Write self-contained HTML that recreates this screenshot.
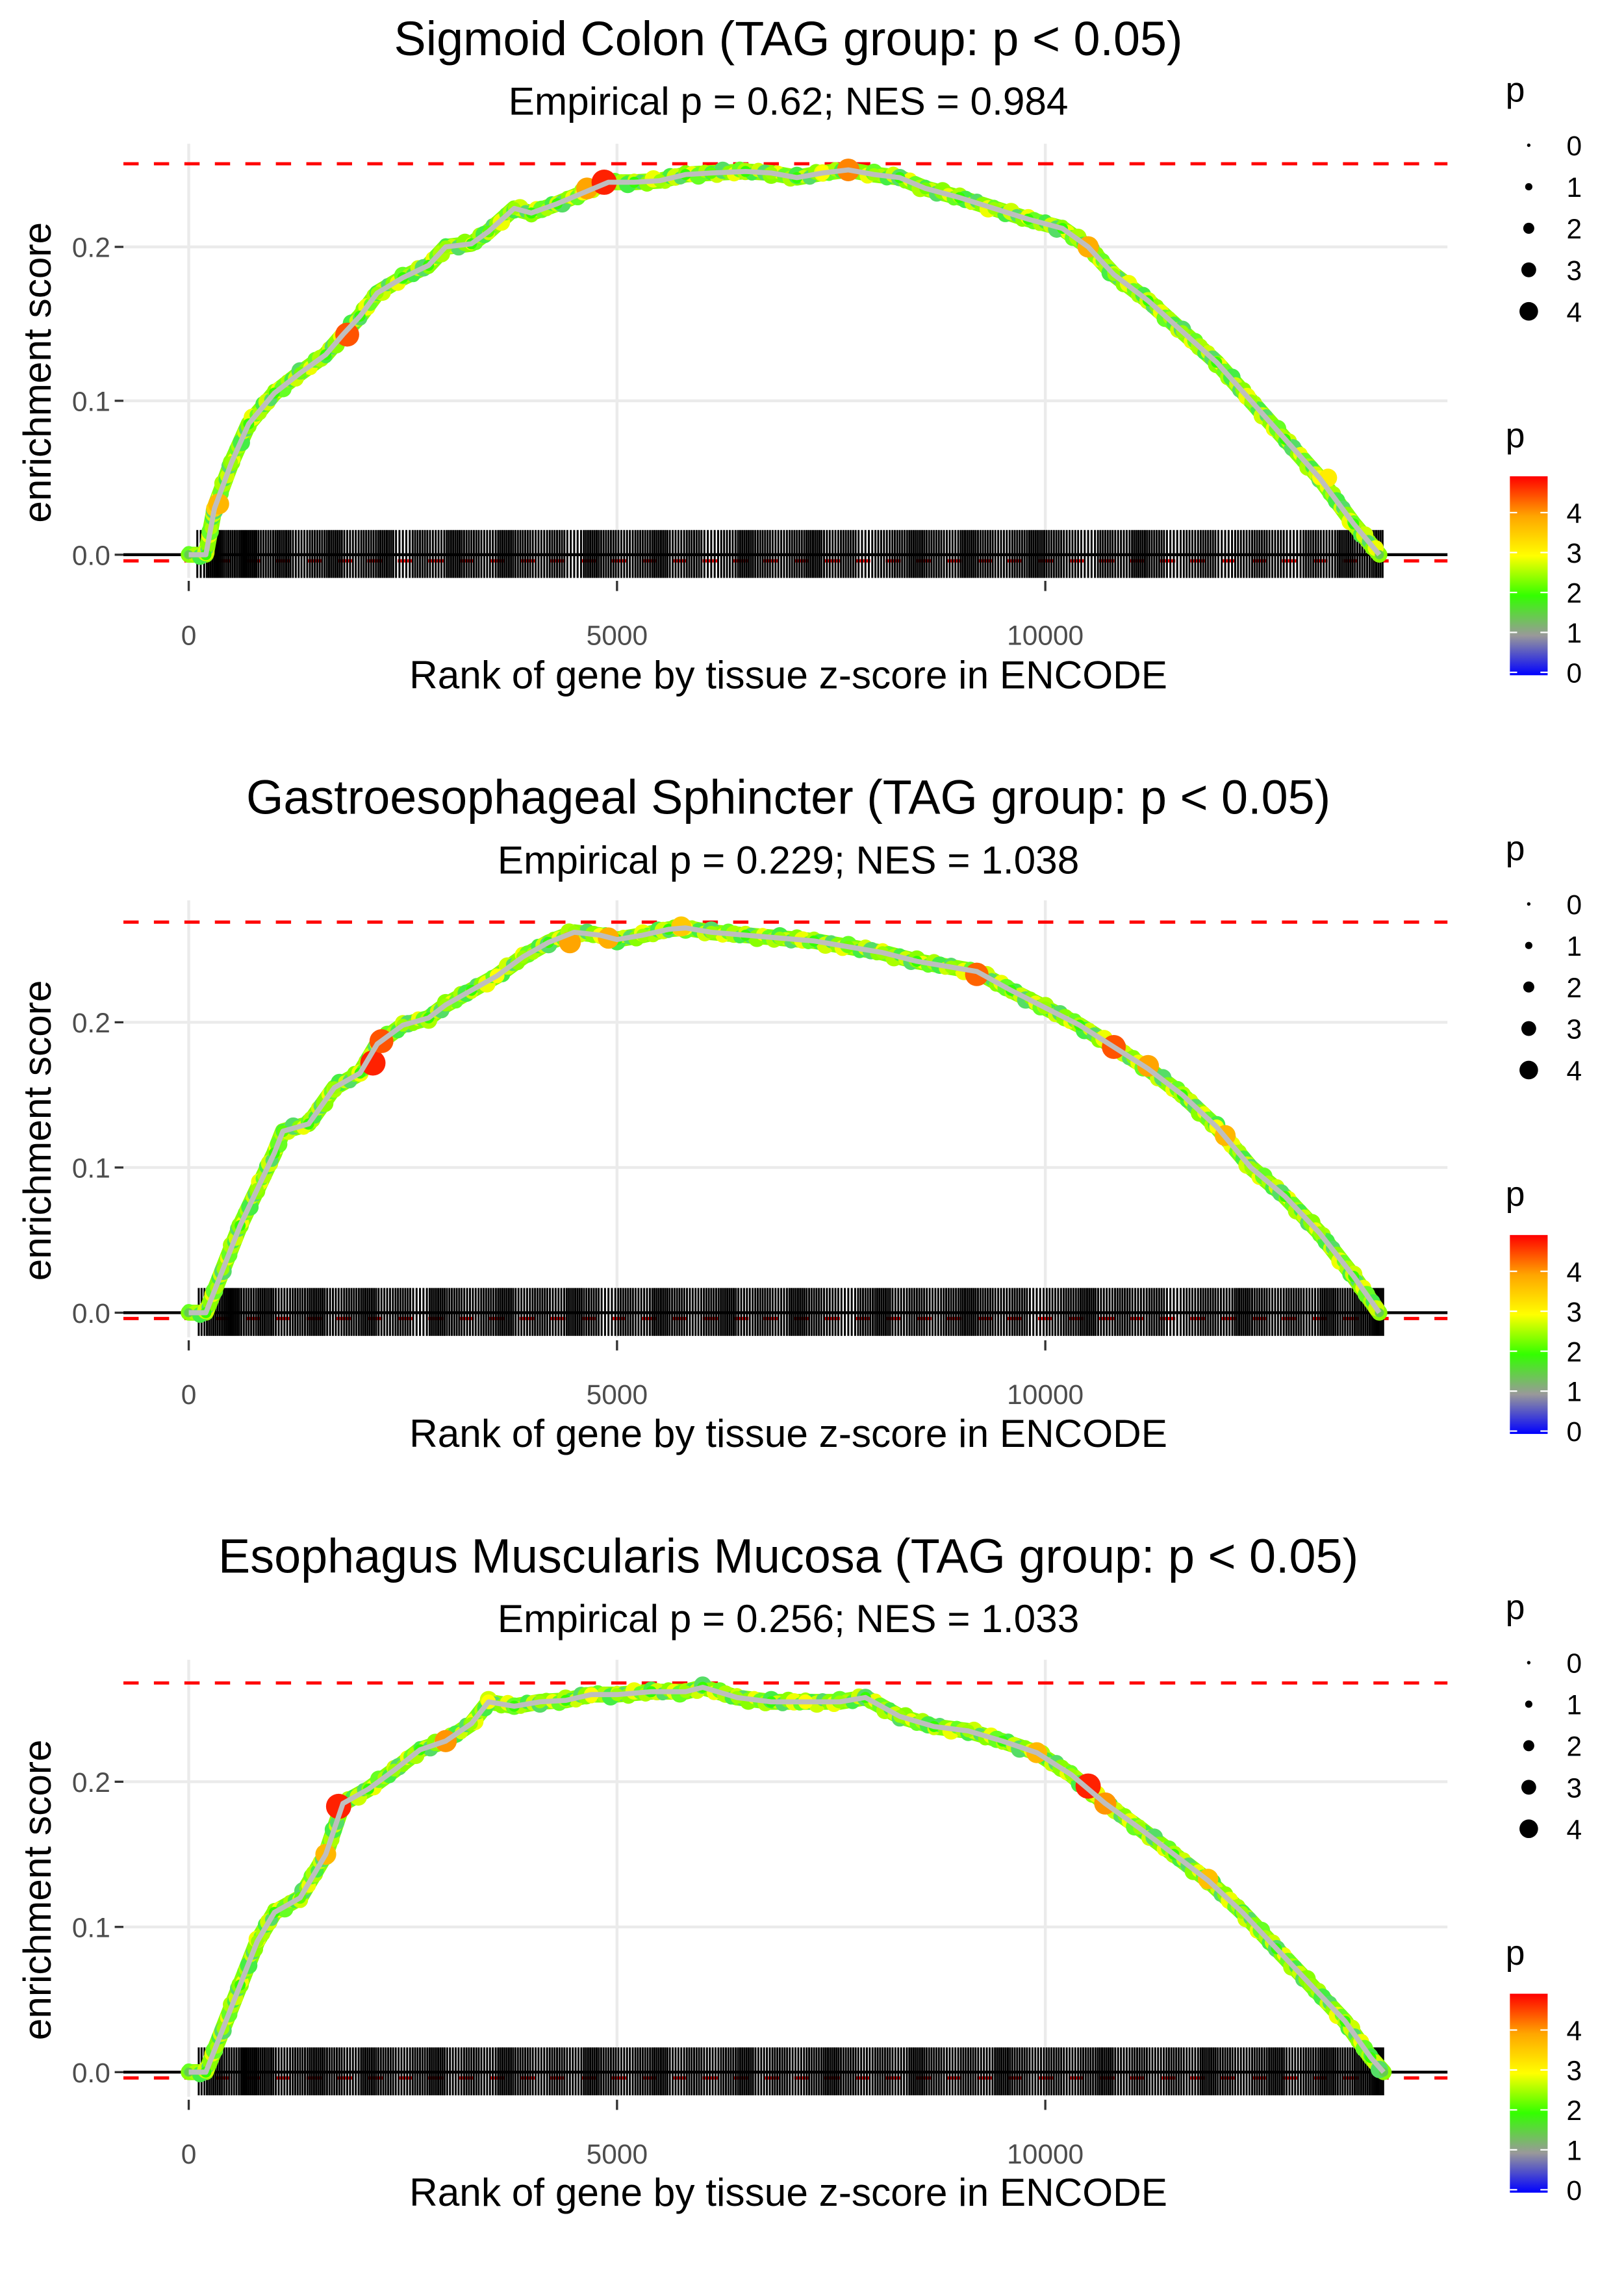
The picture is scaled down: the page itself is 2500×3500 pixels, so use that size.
<!DOCTYPE html>
<html><head><meta charset="utf-8"><style>
html,body{margin:0;padding:0;background:#fff}
svg{display:block}
text{font-family:"Liberation Sans",sans-serif}
</style></head><body>
<svg id="chart" width="2500" height="3500" viewBox="0 0 1118.6 1566" xmlns="http://www.w3.org/2000/svg">
<defs>
<linearGradient id="pgrad" x1="0" y1="1" x2="0" y2="0">
<stop offset="0" stop-color="#0000ff"/>
<stop offset="0.2" stop-color="#999999"/>
<stop offset="0.4" stop-color="#33ff00"/>
<stop offset="0.6" stop-color="#ffff00"/>
<stop offset="0.8" stop-color="#ffa500"/>
<stop offset="1" stop-color="#ff0000"/>
</linearGradient>
</defs>
</svg>
<script>
// ---- data ----
const titles = ["Sigmoid Colon (TAG group: p < 0.05)","Gastroesophageal Sphincter (TAG group: p < 0.05)","Esophagus Muscularis Mucosa (TAG group: p < 0.05)"];
const subtitles = ["Empirical p = 0.62; NES = 0.984","Empirical p = 0.229; NES = 1.038","Empirical p = 0.256; NES = 1.033"];
const xTicks = [0,5000,10000];
const xTickLabels = ["0","5000","10000"];
const yTicks = [0,0.1,0.2];
const yTickLabels = ["0.0","0.1","0.2"];
const maxES = [0.254,0.269,0.268];
const minES = [-0.004,-0.004,-0.004];
const rank1 = [0,200,300,500,700,1000,1300,1600,1800,2000,2200,2500,2800,3000,3300,3500,3800,4000,4300,4600,4900,5200,5500,5800,6100,6500,6800,7100,7400,7700,8000,8300,8600,9000,9400,9800,10200,10500,10800,11200,11600,12000,12400,12800,13200,13600,13900];
const es1 = [0,0,0.03,0.06,0.085,0.105,0.118,0.13,0.143,0.155,0.17,0.18,0.188,0.2,0.202,0.21,0.225,0.222,0.228,0.235,0.242,0.242,0.243,0.247,0.248,0.249,0.248,0.245,0.248,0.25,0.247,0.245,0.238,0.232,0.225,0.218,0.212,0.2,0.182,0.165,0.145,0.125,0.1,0.075,0.05,0.02,0];
const p1 = [1.5,2,3.5,2.5,2,2,2.3,2,3,2,2.5,2,2,2.5,2,2.2,2.5,2,2,3,2.5,2,2.5,2,2.2,2,2.5,2,3,2,2.5,2,2.3,2,2.5,2,2,3.5,2.5,2,2.5,2,2.5,2,3,2,1.5];
const rank2 = [0,200,400,600,800,1000,1100,1400,1700,2000,2200,2500,2800,3000,3300,3600,3900,4200,4500,4800,5000,5300,5600,5800,6100,6500,6900,7300,7700,8100,8500,8900,9200,9600,10000,10400,10800,11200,11600,12000,12400,12800,13200,13600,13900];
const es2 = [0,0,0.03,0.06,0.085,0.11,0.125,0.13,0.155,0.165,0.185,0.198,0.203,0.212,0.222,0.232,0.245,0.255,0.262,0.26,0.257,0.26,0.264,0.265,0.262,0.26,0.258,0.256,0.252,0.248,0.242,0.238,0.235,0.222,0.21,0.198,0.183,0.168,0.15,0.128,0.1,0.08,0.055,0.025,0];
const p2 = [1.5,2,2.5,2,2.5,2,2.2,2,2.5,2,3,2.5,2,2.5,2,3,2.5,2,2.5,3,2,2.5,2,3,2.5,2,2.5,2,2.3,2.5,2,2.5,3,2,2.5,2,3,2.5,2,3,2.5,2,2.5,2,1.5];
const rank3 = [0,200,400,600,800,1000,1300,1600,1800,2100,2400,2700,3000,3300,3500,3800,4100,4400,4700,5000,5400,5800,6000,6400,6800,7200,7600,7900,8300,8700,9100,9500,9900,10300,10700,11100,11500,11900,12300,12700,13100,13500,13800,13950];
const es3 = [0,0,0.03,0.06,0.09,0.11,0.12,0.15,0.185,0.195,0.208,0.222,0.228,0.24,0.255,0.252,0.255,0.256,0.26,0.26,0.262,0.262,0.265,0.258,0.255,0.255,0.255,0.258,0.245,0.238,0.235,0.228,0.22,0.205,0.185,0.168,0.15,0.132,0.11,0.085,0.06,0.035,0.01,0];
const p3 = [1.5,2,2.5,2,2.5,2,2.2,3,2.5,2,2.5,2,3,2.5,3,2,2.5,2,3,2.5,2,2.5,2,2.5,2,3,2.5,2,2.5,2,2.5,2,3,2.5,2,2.5,2,3,2.5,2,2.5,2,2,1.5];
const hiRank1 = [350,1850,4650,4850,7700,10500,13300];
const hiES1 = [0.033,0.143,0.238,0.242,0.25,0.2,0.05];
const hiP1 = [3.8,4.5,4,4.8,4.2,3.9,3.2];
const hiRank2 = [2150,2250,4450,4900,5750,9200,10800,11200,12100];
const hiES2 = [0.172,0.187,0.255,0.258,0.266,0.233,0.183,0.17,0.122];
const hiP2 = [4.8,4.5,4,3.9,3.6,4.4,4.5,4,3.8];
const hiRank3 = [1600,1750,3000,9900,10500,10700,11900];
const hiES3 = [0.15,0.183,0.228,0.22,0.197,0.185,0.133];
const hiP3 = [3.8,4.8,4.1,3.8,4.8,4.1,3.7];
// rug: number of hits per 200-rank bin (bins starting at 0)
const rug1 = [5,9,8,9,7,8,6,7,8,6,7,8,5,7,6,8,7,6,8,7,6,7,5,8,7,6,7,8,6,7,5,6,8,7,6,7,8,6,7,5,6,7,8,7,6,8,7,6,7,8,7,6,5,7,6,8,7,5,6,7,5,6,7,6,5,7,6,8,7,8];
const rug2 = [6,8,9,7,8,6,7,8,6,7,8,6,7,5,8,7,6,7,8,6,7,6,8,7,5,7,6,8,7,6,7,8,6,7,6,8,7,6,5,7,8,6,7,6,7,8,7,6,7,5,6,7,8,6,7,6,7,5,6,7,6,8,7,6,7,6,8,7,8,9];
const rug3 = [6,8,7,9,8,6,7,8,7,6,8,7,6,7,8,6,7,6,8,7,6,7,6,8,7,6,7,8,6,7,6,7,8,6,7,6,7,8,7,6,7,6,8,7,6,7,6,8,7,6,7,6,7,8,6,7,6,7,6,8,7,6,7,8,6,7,8,7,8,9];
const legendSizes = [0,1,2,3,4];
const colorbarTicks = [0,1,2,3,4];

const rankSets=[rank1,rank2,rank3], esSets=[es1,es2,es3], pSets=[p1,p2,p3];
const hiR=[hiRank1,hiRank2,hiRank3], hiE=[hiES1,hiES2,hiES3], hiPv=[hiP1,hiP2,hiP3];
const rugs=[rug1,rug2,rug3];

// ---- layout ----
const NS="http://www.w3.org/2000/svg";
const svg=document.getElementById('chart');
function mk(tag,attrs,parent){const e=document.createElementNS(NS,tag);for(const k in attrs)e.setAttribute(k,attrs[k]);(parent||svg).appendChild(e);return e;}
const X0=130, XPER=295/5000, PL=85, PR=997;
const panels=[{y0:382,k:1060,top:99,bot:398,off:0},{y0:904,k:1000,top:620,bot:921,off:522.5},{y0:1427,k:1000,top:1143,bot:1444,off:1045}];
function xs(r){return X0+r*XPER;}
const stops=[[0,[0,0,255]],[1,[153,153,153]],[2,[51,255,0]],[3,[255,255,0]],[4,[255,165,0]],[5,[255,0,0]]];
function pcol(p){p=Math.max(0,Math.min(5,p));for(let i=0;i<5;i++){if(p<=stops[i+1][0]){const t=(p-stops[i][0]);const a=stops[i][1],b=stops[i+1][1];return 'rgb('+a.map((v,j)=>Math.round(v+(b[j]-v)*t)).join(',')+')';}}return 'rgb(255,0,0)';}
function psize(p){return 1.2+p*1.3;}
function hsize(p){return 1.5+p*1.5;}
const deco=['#66ff22','#aaff00','#44ee44','#ccff00','#55dd66','#88ff00','#eeff00'];

panels.forEach((P,i)=>{
  const g=mk('g',{});
  
  
  const ys=v=>P.y0-v*P.k;
  const t=mk('text',{x:543,y:P.off+38,'font-size':33,'text-anchor':'middle',fill:'#000'},g);t.textContent=titles[i];
  
  const st=mk('text',{x:543,y:P.off+79,'font-size':27,'text-anchor':'middle',fill:'#000'},g);st.textContent=subtitles[i];
  
  yTicks.forEach((v,j)=>{const l=mk('line',{x1:PL,x2:PR,y1:ys(v),y2:ys(v),stroke:'#ebebeb','stroke-width':2},g);
    
    const tk=mk('line',{x1:79,x2:85,y1:ys(v),y2:ys(v),stroke:'#333','stroke-width':1.5},g);
    
    const tl=mk('text',{x:76,y:ys(v)+7,'font-size':19,'text-anchor':'end',fill:'#4d4d4d'},g);tl.textContent=yTickLabels[j];
    });
  xTicks.forEach((v,j)=>{const l=mk('line',{x1:xs(v),x2:xs(v),y1:P.top,y2:P.bot,stroke:'#ebebeb','stroke-width':2},g);
    
    const tk=mk('line',{x1:xs(v),x2:xs(v),y1:P.bot+2,y2:P.bot+9,stroke:'#333','stroke-width':1.5},g);
    
    const tl=mk('text',{x:xs(v),y:P.bot+46,'font-size':19,'text-anchor':'middle',fill:'#4d4d4d'},g);tl.textContent=xTickLabels[j];
    });
  const xt=mk('text',{x:543,y:P.off+474,'font-size':27,'text-anchor':'middle',fill:'#000'},g);xt.textContent='Rank of gene by tissue z-score in ENCODE';
  
  const cy=(P.top+P.bot)/2+8;
  const yt=mk('text',{x:0,y:0,'font-size':27,'text-anchor':'middle',fill:'#000',transform:'translate(35,'+cy+') rotate(-90)'},g);yt.textContent='enrichment score';
  
  [maxES[i],minES[i]].forEach(v=>{const l=mk('line',{x1:PL,x2:PR,y1:ys(v),y2:ys(v),stroke:'#ff0000','stroke-width':2.2,'stroke-dasharray':'10.5,10.5'},g);
    });
  const rg=mk('g',{},g);
  rugs[i].forEach((n,b)=>{for(let q=0;q<n;q++){const r=b*200+(q+0.5)*200/n;if(r<100||r>13950)continue;
    const l=mk('line',{x1:xs(r),x2:xs(r),y1:P.y0-17,y2:P.y0+16,stroke:'#000','stroke-width':1.35},rg);
    }});
  const z=mk('line',{x1:PL,x2:PR,y1:P.y0,y2:P.y0,stroke:'#000','stroke-width':2},g);
  
  const R=rankSets[i],E=esSets[i],Pp=pSets[i];
  const pts=R.map((r,j)=>xs(r)+','+ys(E[j])).join(' ');
  const band=mk('polyline',{points:pts,fill:'none',stroke:'#88ff00','stroke-width':11,'stroke-linejoin':'round','stroke-linecap':'round'},g);
  
  let c0=0;
  for(let j=0;j<R.length-1;j++){const xa=xs(R[j]),ya=ys(E[j]),xb=xs(R[j+1]),yb=ys(E[j+1]);
    const n=Math.max(1,Math.round(Math.hypot(xb-xa,yb-ya)/4));
    for(let q=0;q<n;q++){const f=q/n;const c=mk('circle',{cx:xa+(xb-xa)*f,cy:ya+(yb-ya)*f+((c0%3)-1)*1.5,r:4.5+(c0%4)*0.5,fill:deco[c0%deco.length]},g);
      c0++;}}
  R.forEach((r,j)=>{const c=mk('circle',{cx:xs(r),cy:ys(E[j]),r:psize(Pp[j]),fill:pcol(Pp[j])},g);
    });
  hiR[i].forEach((r,j)=>{const c=mk('circle',{cx:xs(r),cy:ys(hiE[i][j]),r:hsize(hiPv[i][j]),fill:pcol(hiPv[i][j])},g);
    });
  const line=mk('polyline',{points:pts,fill:'none',stroke:'#bebebe','stroke-width':3.5,'stroke-linejoin':'round'},g);
  
  const lg=mk('g',{},g);
  const lt=mk('text',{x:1037,y:P.off+70,'font-size':24,fill:'#000'},lg);lt.textContent='p';
  legendSizes.forEach((s,j)=>{const yy=P.off+100+j*28.6;
    const c=mk('circle',{cx:1053,cy:yy,r:1.2+s*1.3,fill:'#000'},lg);
    const tx=mk('text',{x:1079,y:yy+7,'font-size':19,fill:'#000'},lg);tx.textContent=String(s);
    });
  const cg=mk('g',{},g);
  const ct=mk('text',{x:1037,y:P.off+308,'font-size':24,fill:'#000'},cg);ct.textContent='p';
  const cb0=P.off+465, cbPer=27.5;
  const rect=mk('rect',{x:1040,y:cb0-5*cbPer+0.5,width:26,height:5*cbPer-0.5,fill:'url(#pgrad)'},cg);
  
  colorbarTicks.forEach(v=>{const yy=cb0-2-v*cbPer;
    mk('line',{x1:1040,x2:1045,y1:yy,y2:yy,stroke:'#fff','stroke-width':1},cg);
    mk('line',{x1:1061,x2:1066,y1:yy,y2:yy,stroke:'#fff','stroke-width':1},cg);
    const tx=mk('text',{x:1079,y:yy+7,'font-size':19,fill:'#000'},cg);tx.textContent=String(v);
    });
});
</script>
</body></html>
